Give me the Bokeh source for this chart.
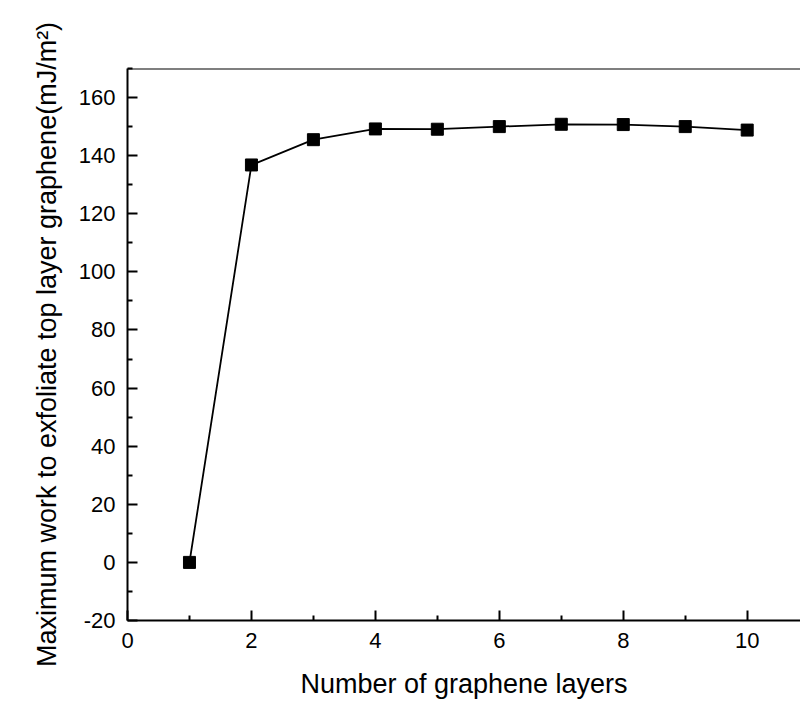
from bokeh.plotting import figure
from bokeh.models import FixedTicker, Span, Range1d, PrintfTickFormatter
from bokeh.embed import file_html
from bokeh.resources import INLINE

# Number of graphene layers and the maximum exfoliation work of the top layer
layers = [1, 2, 3, 4, 5, 6, 7, 8, 9, 10]
max_work = [0.0, 136.8, 145.5, 149.2, 149.1, 150.0, 150.8, 150.7, 150.0, 148.8]

x_major = [0, 2, 4, 6, 8, 10]
x_minor = [1, 3, 5, 7, 9]
y_major = [-20, 0, 20, 40, 60, 80, 100, 120, 140, 160]
y_minor = [-10, 10, 30, 50, 70, 90, 110, 130, 150, 170]

FONT = "Liberation Sans"

p = figure(width=800, height=704, output_backend="svg", toolbar_location=None,
           x_range=Range1d(0, 10.86), y_range=Range1d(-20, 170),
           min_border_left=127, min_border_right=0, min_border_top=68,
           min_border_bottom=84)
p.outline_line_color = None
p.grid.visible = False
p.background_fill_color = "white"
p.border_fill_color = "white"

p.line(layers, max_work, line_color="black", line_width=1.8)
p.scatter(layers, max_work, marker="square", size=12, fill_color="black",
          line_color="black")

# top edge of the frame
p.add_layout(Span(location=170, dimension="width", line_color="black",
                  line_width=2))

for ax in (p.xaxis[0], p.yaxis[0]):
    ax.axis_line_width = 2
    ax.axis_line_color = "black"
    ax.major_tick_in = 10
    ax.major_tick_out = 0
    ax.minor_tick_in = 5
    ax.minor_tick_out = 0
    ax.major_tick_line_width = 2
    ax.minor_tick_line_width = 2
    ax.major_label_text_font = FONT
    ax.major_label_text_font_size = "22px"
    ax.major_label_text_color = "black"
    ax.major_label_standoff = 12
    ax.axis_label_text_font = FONT
    ax.axis_label_text_font_size = "27px"
    ax.axis_label_text_font_style = "normal"
    ax.axis_label_text_color = "black"

p.xaxis.ticker = FixedTicker(ticks=x_major, minor_ticks=x_minor)
p.yaxis.ticker = FixedTicker(ticks=y_major, minor_ticks=y_minor)
p.xaxis.formatter = PrintfTickFormatter(format="%d")
p.yaxis.formatter = PrintfTickFormatter(format="%d")
p.xaxis.axis_label = "Number of graphene layers"
p.yaxis.axis_label = "Maximum work to exfoliate top layer graphene(mJ/m\u00b2)"
p.xaxis.axis_label_standoff = 18
p.yaxis.axis_label_standoff = 14

open("out.html", "w").write(file_html(p, INLINE))
